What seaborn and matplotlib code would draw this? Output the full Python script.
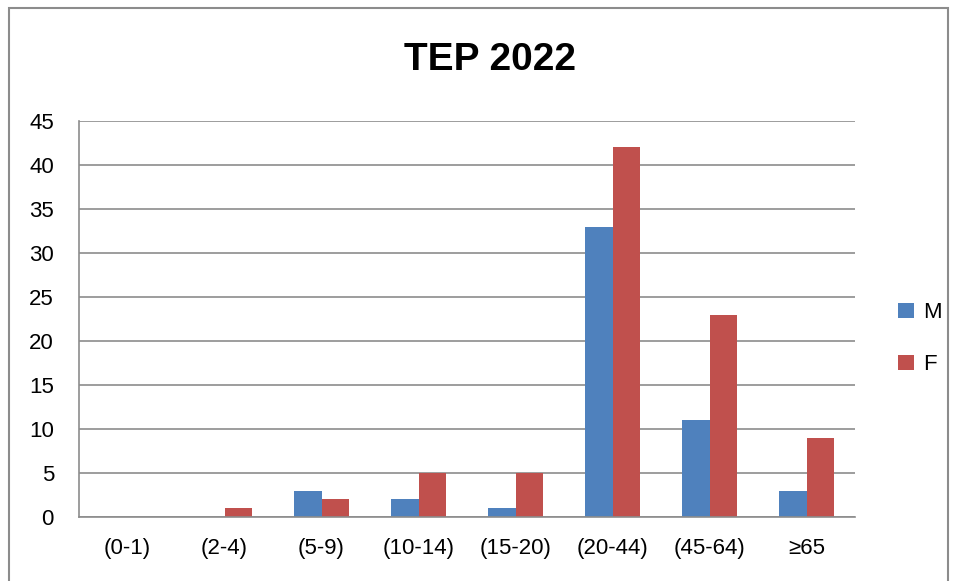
import numpy as np
import pandas as pd
import matplotlib
matplotlib.use("Agg")
import matplotlib.pyplot as plt
from matplotlib.patches import Rectangle
import seaborn as sns

# data
categories = ["(0-1)", "(2-4)", "(5-9)", "(10-14)", "(15-20)", "(20-44)", "(45-64)", "\u226565"]
m_values = [0, 0, 3, 2, 1, 33, 11, 3]
f_values = [0, 1, 2, 5, 5, 42, 23, 9]
series = ["M", "F"]

df = pd.DataFrame({
    "grupo": categories * 2,
    "valor": m_values + f_values,
    "sexo": ["M"] * len(m_values) + ["F"] * len(f_values),
})

sns.set_style("white")
plt.rcParams["font.family"] = ["Liberation Sans", "DejaVu Sans"]
plt.rcParams["text.color"] = "black"

fig = plt.figure(figsize=(9.56, 5.81), dpi=100)
ax = fig.add_axes([79 / 956, 1 - 517 / 581, (855 - 79) / 956, (517 - 121) / 581])

sns.barplot(data=df, x="grupo", y="valor", hue="sexo", hue_order=series,
            palette={"M": "#4F81BD", "F": "#C0504D"}, width=0.57,
            saturation=1, linewidth=0, ax=ax, legend=True)

ax.set_ylim(0, 45)
ax.set_xlim(-0.5, len(categories) - 0.5)
ax.set_yticks(np.arange(0, 46, 5))
ax.yaxis.grid(True, color="#8C8C8C", linewidth=1.2)
ax.set_axisbelow(True)
ax.set_xlabel("")
ax.set_ylabel("")
for s in ["top", "right"]:
    ax.spines[s].set_visible(False)
for s in ["left", "bottom"]:
    ax.spines[s].set_color("#8C8C8C")
    ax.spines[s].set_linewidth(1.2)
ax.tick_params(axis="both", length=0, labelsize=16, colors="black")
ax.tick_params(axis="y", pad=18)
ax.tick_params(axis="x", pad=15)

fig.text(0.513, 1 - 60 / 581, "TEP 2022", ha="center", va="center",
         fontsize=28, fontweight="bold", color="black")

leg = ax.legend(loc="center left", bbox_to_anchor=(1.03, 0.45), frameon=False,
                fontsize=16, handlelength=0.7, handleheight=0.7,
                labelspacing=1.4, handletextpad=0.4)

fig.patches.append(Rectangle((9 / 956, -0.01), 939 / 956, 1 - 8 / 581 + 0.01,
                             transform=fig.transFigure, fill=False,
                             edgecolor="#8C8C8C", linewidth=1.5))

fig.savefig("out.png", dpi=100)
